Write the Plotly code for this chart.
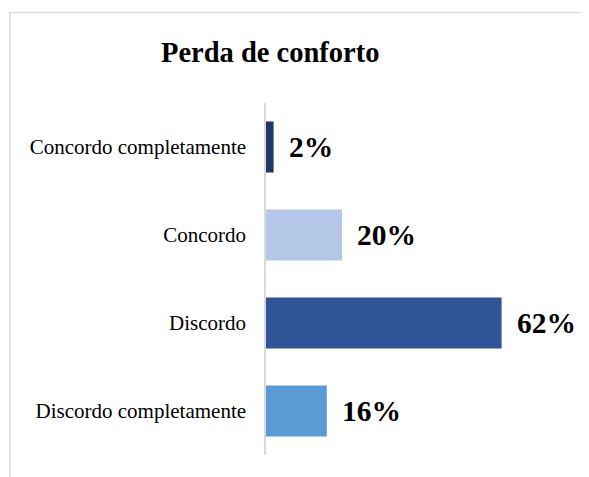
import plotly.graph_objects as go

categories = ["Concordo completamente", "Concordo", "Discordo", "Discordo completamente"]
values = [2, 20, 62, 16]
labels = ["2%", "20%", "62%", "16%"]
colors = ["#203864", "#B4C7E7", "#2F5597", "#5B9BD5"]

OFF = 8  # page body margin
W, H = 589 - OFF, 477 - OFF
# target plot area in page pixels: x 266..532, y 103..455
L, T = 266 - OFF, 103 - OFF
R = W - (532 - OFF)
B = H - (455 - OFF)
pw, ph = W - L - R, H - T - B

fig = go.Figure(go.Bar(
    y=categories, x=values, orientation="h",
    marker=dict(color=colors, line=dict(width=0)),
    width=0.58, hoverinfo="skip",
))

for c, v, t in zip(categories, values, labels):
    fig.add_annotation(x=v, y=c, text="<b>" + t + "</b>", showarrow=False, xanchor="left", xshift=13,
                       font=dict(family="Liberation Serif", size=29.5, color="black"))

# title
fig.add_annotation(xref="paper", yref="paper", x=(270 - 266) / pw, y=(455 - 52) / ph,
                   text="<b>Perda de conforto</b>", showarrow=False,
                   xanchor="center", yanchor="middle",
                   font=dict(family="Liberation Serif", size=28.5, color="black"))

# chart border (left and top edges visible)
fig.add_shape(type="rect", xref="paper", yref="paper",
              x0=(10 - 266) / pw, x1=(640 - 266) / pw,
              y0=(455 - 520) / ph, y1=(455 - 12.5) / ph,
              line=dict(color="#D9D9D9", width=1.5), layer="below")

fig.update_layout(
    width=W, height=H, margin=dict(l=L, r=R, t=T, b=B),
    paper_bgcolor="white", plot_bgcolor="white",
    showlegend=False,
    xaxis=dict(range=[0, pw / 3.8], visible=False, fixedrange=True),
    yaxis=dict(categoryorder="array", categoryarray=categories[::-1],
               showline=True, linecolor="#D9D9D9", linewidth=1.5,
               ticks="", showgrid=False, zeroline=False, ticklabelstandoff=14,
               tickfont=dict(family="Liberation Serif", size=21, color="black")),
)

fig.write_html("out.html")
